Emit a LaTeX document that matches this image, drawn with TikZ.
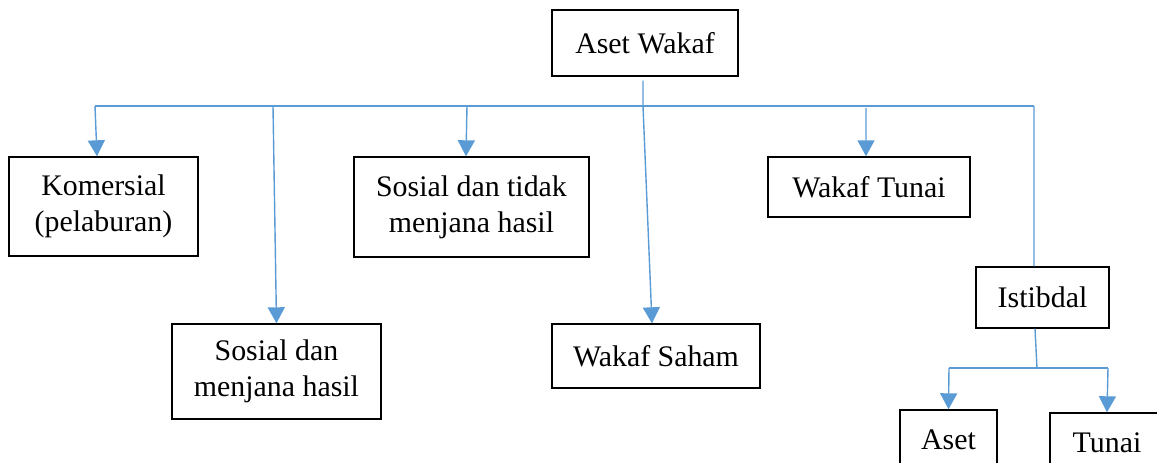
\documentclass[tikz,border=0pt]{standalone}
\usepackage{fontspec}
\setmainfont{Liberation Serif}
\usetikzlibrary{arrows.meta}
\definecolor{linkblue}{RGB}{91,155,213}
\tikzset{
  box/.style={draw=black,line width=0.8pt,align=center,inner sep=2pt,font=\fontsize{17}{20.5}\selectfont},
  link/.style={draw=linkblue,line width=0.8pt},
  linkarrow/.style={link,-{Triangle[width=0.34cm,length=0.32cm]}},
}
\begin{document}
\begin{tikzpicture}[x=0.02cm,y=-0.02cm]
\useasboundingbox (0,0) rectangle (1157,463);
\clip (0,0) rectangle (1157,463);
% boxes
\node[box,minimum width=3.72cm,minimum height=1.32cm] (root) at (645,43) {Aset Wakaf};
\node[box,minimum width=3.78cm,minimum height=1.98cm] (kom) at (103.5,206.5) {Komersial\\(pelaburan)};
\node[box,minimum width=4.18cm,minimum height=1.90cm] (sdm) at (276.5,371.5) {Sosial dan\\menjana hasil};
\node[box,minimum width=4.70cm,minimum height=2.00cm] (sdtm) at (471.5,207) {Sosial dan tidak\\menjana hasil};
\node[box,minimum width=4.16cm,minimum height=1.28cm] (saham) at (656,356) {Wakaf Saham};
\node[box,minimum width=4.04cm,minimum height=1.20cm] (tunai) at (869,187) {Wakaf Tunai};
\node[box,minimum width=2.66cm,minimum height=1.22cm] (istibdal) at (1042.5,297.5) {Istibdal};
\node[box,minimum width=1.94cm,minimum height=1.20cm] (aset) at (948.5,440) {Aset};
\node[box,minimum width=2.28cm,minimum height=1.20cm] (tunaib) at (1107,443) {Tunai};
% bus points
\coordinate (bkom) at (95,106);
\coordinate (bsdm) at (273,106);
\coordinate (bsdtm) at (467,106);
\coordinate (broot) at (643,106);
\coordinate (btunai) at (866,108);
\coordinate (bist) at (1034,106);
\draw[link] (bkom) -- (bist);
\draw[link] ([xshift=-0.04cm,yshift=-0.08cm]root.south) -- (broot);
% arrows to the categories
\draw[linkarrow] (bkom) -- ([xshift=-0.13cm]kom.north);
\draw[linkarrow] (bsdm) -- (sdm.north);
\draw[linkarrow] (bsdtm) -- ([xshift=-0.11cm]sdtm.north);
\draw[linkarrow] (broot) -- ([xshift=-0.08cm]saham.north);
\draw[linkarrow] (btunai) -- ([xshift=-0.06cm]tunai.north);
\draw[link] (bist) -- ([xshift=-0.17cm]istibdal.north);
% istibdal branch
\coordinate (bsub) at (1037,368);
\coordinate (bseta) at (949,368);
\coordinate (bsetb) at (1108,368);
\draw[link] ([xshift=-0.15cm]istibdal.south) -- (bsub);
\draw[link] (bseta) -- (bsetb);
\draw[linkarrow] (bseta) -- (aset.north);
\draw[linkarrow] (bsetb) -- (tunaib.north);
\end{tikzpicture}
\end{document}
